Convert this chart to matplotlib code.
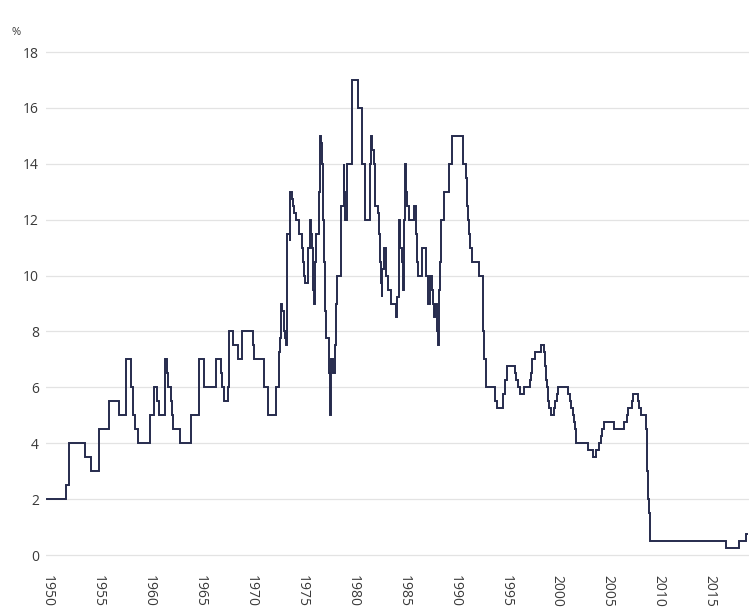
import matplotlib
matplotlib.use("Agg")
import matplotlib.pyplot as plt
import pandas as pd

# Change dates and bank rate (%) after each change
change_dates = [
    "1950-01-01", "1951-11-08", "1952-03-12", "1953-09-17", "1954-05-13",
    "1955-01-27", "1955-02-24", "1956-02-16", "1957-02-07", "1957-09-19",
    "1958-03-20", "1958-05-22", "1958-06-19", "1958-08-14", "1958-11-20",
    "1960-01-21", "1960-06-23", "1960-10-27", "1960-12-08", "1961-07-26",
    "1961-10-05", "1961-11-02", "1962-03-08", "1962-03-22", "1962-04-26",
    "1963-01-03", "1964-02-27", "1964-11-23", "1965-06-03", "1966-07-14",
    "1967-01-26", "1967-03-16", "1967-05-04", "1967-10-19", "1967-11-09",
    "1967-11-18", "1968-03-21", "1968-09-19", "1969-02-27", "1970-03-05",
    "1970-04-15", "1971-04-01", "1971-09-02", "1972-06-22", "1972-10-13",
    "1972-10-27", "1972-11-24", "1972-12-22", "1973-01-19", "1973-03-23",
    "1973-04-13", "1973-05-11", "1973-06-01", "1973-07-20", "1973-07-27",
    "1973-10-19", "1973-11-13", "1974-01-04", "1974-02-01", "1974-04-05",
    "1974-05-24", "1974-09-20", "1975-01-10", "1975-02-07", "1975-02-21",
    "1975-03-07", "1975-03-21", "1975-04-18", "1975-05-02", "1975-07-25",
    "1975-10-03", "1975-11-14", "1975-11-28", "1975-12-24", "1976-01-02",
    "1976-01-16", "1976-01-30", "1976-02-13", "1976-03-05", "1976-03-19",
    "1976-04-23", "1976-05-21", "1976-09-10", "1976-10-07", "1976-11-19",
    "1976-12-24", "1977-01-07", "1977-01-21", "1977-01-28", "1977-02-04",
    "1977-03-11", "1977-03-18", "1977-04-01", "1977-04-08", "1977-04-15",
    "1977-04-22", "1977-04-29", "1977-05-13", "1977-08-12", "1977-08-19",
    "1977-09-09", "1977-09-16", "1977-10-07", "1977-10-14", "1977-11-25",
    "1978-01-06", "1978-04-11", "1978-05-05", "1978-05-12", "1978-06-08",
    "1978-11-09", "1979-02-08", "1979-03-01", "1979-04-05", "1979-06-12",
    "1979-11-15", "1980-07-03", "1980-11-24", "1981-03-10", "1981-09-15",
    "1981-10-12", "1981-11-09", "1981-12-04", "1982-01-22", "1982-02-25",
    "1982-03-12", "1982-06-08", "1982-07-13", "1982-08-02", "1982-08-18",
    "1982-09-01", "1982-10-07", "1982-11-04", "1982-11-26", "1983-01-12",
    "1983-03-15", "1983-04-15", "1983-06-15", "1983-10-04", "1984-03-07",
    "1984-03-15", "1984-05-10", "1984-06-27", "1984-07-12", "1984-08-09",
    "1984-08-20", "1984-11-07", "1984-11-23", "1984-12-10", "1985-01-11",
    "1985-01-14", "1985-01-28", "1985-03-20", "1985-03-29", "1985-04-19",
    "1985-06-12", "1985-07-15", "1986-01-09", "1986-03-19", "1986-04-08",
    "1986-04-21", "1986-05-23", "1986-10-14", "1987-03-10", "1987-03-19",
    "1987-04-29", "1987-05-11", "1987-08-07", "1987-10-23", "1987-11-05",
    "1987-12-04", "1988-02-02", "1988-03-17", "1988-04-11", "1988-05-17",
    "1988-06-03", "1988-06-06", "1988-06-22", "1988-06-29", "1988-07-05",
    "1988-07-18", "1988-08-08", "1988-08-25", "1988-11-25", "1989-05-24",
    "1989-10-05", "1990-10-08", "1991-02-13", "1991-02-27", "1991-03-22",
    "1991-04-12", "1991-05-24", "1991-07-12", "1991-09-04", "1992-05-05",
    "1992-09-22", "1992-10-16", "1992-11-13", "1993-01-26", "1993-11-23",
    "1994-02-08", "1994-09-12", "1994-12-07", "1995-02-02", "1995-12-13",
    "1996-01-18", "1996-03-08", "1996-06-06", "1996-10-30", "1997-05-06",
    "1997-06-06", "1997-07-10", "1997-08-07", "1997-11-06", "1998-06-04",
    "1998-10-08", "1998-11-05", "1998-12-10", "1999-01-07", "1999-02-04",
    "1999-04-08", "1999-06-10", "1999-09-08", "1999-11-04", "2000-01-13",
    "2000-02-10", "2001-02-08", "2001-04-05", "2001-05-10", "2001-08-02",
    "2001-09-18", "2001-10-04", "2001-11-08", "2003-02-06", "2003-07-10",
    "2003-11-06", "2004-02-05", "2004-05-06", "2004-06-10", "2004-08-05",
    "2005-08-04", "2006-08-03", "2006-11-09", "2007-01-11", "2007-05-10",
    "2007-07-05", "2007-12-06", "2008-02-07", "2008-04-10", "2008-10-08",
    "2008-11-06", "2008-12-04", "2009-01-08", "2009-02-05", "2009-03-05",
    "2016-08-04", "2017-11-02", "2018-08-02", "2018-09-01",
]
rates = [
    2.0, 2.5, 4.0, 3.5, 3.0,
    3.5, 4.5, 5.5, 5.0, 7.0,
    6.0, 5.5, 5.0, 4.5, 4.0,
    5.0, 6.0, 5.5, 5.0, 7.0,
    6.5, 6.0, 5.5, 5.0, 4.5,
    4.0, 5.0, 7.0, 6.0, 7.0,
    6.5, 6.0, 5.5, 6.0, 6.5,
    8.0, 7.5, 7.0, 8.0, 7.5,
    7.0, 6.0, 5.0, 6.0, 7.25,
    7.5, 7.75, 9.0, 8.75, 8.5,
    8.0, 7.75, 7.5, 9.0, 11.5,
    11.25, 13.0, 12.75, 12.5, 12.25,
    12.0, 11.5, 11.0, 10.75, 10.5,
    10.25, 10.0, 10.0, 9.75, 11.0,
    12.0, 11.75, 11.5, 11.25, 11.0,
    10.5, 10.0, 9.5, 9.25, 9.0,
    10.5, 11.5, 13.0, 15.0, 14.75,
    14.5, 14.0, 13.25, 12.25, 12.0,
    11.0, 10.5, 10.0, 9.5, 9.0,
    8.75, 8.25, 7.75, 7.5, 7.0,
    6.5, 6.0, 5.5, 5.0, 7.0,
    6.5, 7.5, 8.75, 9.0, 10.0,
    12.5, 14.0, 13.0, 12.0, 14.0,
    17.0, 16.0, 14.0, 12.0, 14.0,
    15.0, 14.5, 14.5, 14.0, 13.0,
    12.5, 12.25, 12.0, 11.5, 11.0,
    10.5, 9.75, 9.25, 10.25, 11.0,
    10.5, 10.0, 9.5, 9.0, 8.75,
    8.5, 9.25, 9.5, 12.0, 11.5,
    11.0, 10.5, 9.75, 9.5, 10.5,
    12.0, 14.0, 13.5, 13.0, 12.5,
    12.5, 12.0, 12.5, 11.5, 11.0,
    10.5, 10.0, 11.0, 10.5, 10.0,
    9.5, 9.0, 10.0, 9.5, 9.0,
    8.5, 9.0, 8.5, 8.0, 7.5,
    8.0, 8.5, 9.0, 9.5, 10.0,
    10.5, 11.0, 12.0, 13.0, 14.0,
    15.0, 14.0, 13.5, 13.0, 12.5,
    12.0, 11.5, 11.0, 10.5, 10.0,
    9.0, 8.0, 7.0, 6.0, 5.5,
    5.25, 5.75, 6.25, 6.75, 6.5,
    6.25, 6.0, 5.75, 6.0, 6.25,
    6.5, 6.75, 7.0, 7.25, 7.5,
    7.25, 6.75, 6.25, 6.0, 5.5,
    5.25, 5.0, 5.25, 5.5, 5.75,
    6.0, 5.75, 5.5, 5.25, 5.0,
    4.75, 4.5, 4.0, 3.75, 3.5,
    3.75, 4.0, 4.25, 4.5, 4.75,
    4.5, 4.75, 5.0, 5.25, 5.5,
    5.75, 5.5, 5.25, 5.0, 4.5,
    3.0, 2.0, 1.5, 1.0, 0.5,
    0.25, 0.5, 0.75, 0.75,
]
year_ticks = list(range(1950, 2016, 5))
y_ticks = list(range(0, 19, 2))

dates = pd.to_datetime(change_dates)
x = dates.year + (dates.dayofyear - 1) / 365.25

plt.rcParams['font.family'] = ['Open Sans', 'DejaVu Sans']

fig = plt.figure(figsize=(7.49, 6.11), dpi=100)
ax = fig.add_axes([0.0614, 0.0779, 0.9386, 0.8507])
ax.plot(x, rates, drawstyle='steps-post', color='#262b4d', lw=1.4,
        solid_joinstyle='miter')
ax.set_xlim(1949.9, 2018.85)
ax.set_ylim(-0.3, 18.3)
ax.set_yticks(y_ticks)
ax.set_yticklabels([str(v) for v in y_ticks])
ax.set_xticks(year_ticks)
ax.set_xticklabels([str(v) for v in year_ticks], rotation=-90)
ax.tick_params(axis='both', length=0, labelsize=10, colors='#3a3a3a')
ax.tick_params(axis='y', pad=5)
ax.tick_params(axis='x', pad=8)
ax.grid(axis='y', color='#e3e3e3', lw=0.9)
ax.set_axisbelow(True)
for s in ax.spines.values():
    s.set_visible(False)
fig.text(0.015, 0.942, '%', fontsize=8, color='#3a3a3a')
fig.savefig('out.png', dpi=100)
